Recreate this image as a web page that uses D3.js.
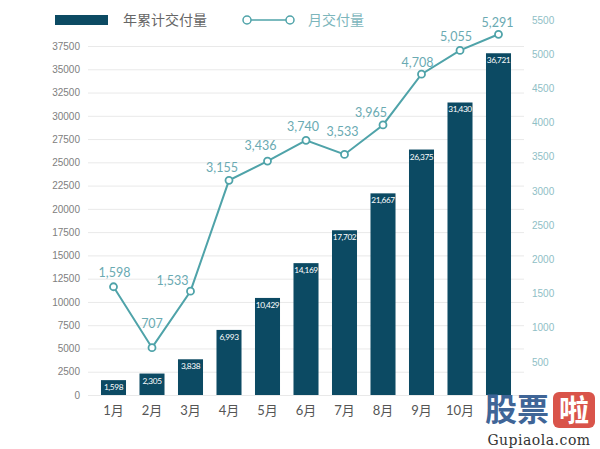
<!DOCTYPE html>
<html><head><meta charset="utf-8">
<script src="https://cdn.jsdelivr.net/npm/d3@7"></script>
<style>body{margin:0;background:#fff}svg{display:block;font-family:Lato,"Noto Sans CJK SC",sans-serif}</style>
</head><body><svg id="c" width="600" height="449"></svg>
<script>
const categories = ["1月","2月","3月","4月","5月","6月","7月","8月","9月","10月","11月"];
const cumulative = [1598,2305,3838,6993,10429,14169,17702,21667,26375,31430,36721];
const monthly = [1598,707,1533,3155,3436,3740,3533,3965,4708,5055,5291];
const leftTicks = [0,2500,5000,7500,10000,12500,15000,17500,20000,22500,25000,27500,30000,32500,35000,37500];
const rightTicks = [500,1000,1500,2000,2500,3000,3500,4000,4500,5000,5500];
const seriesNames = ["年累计交付量","月交付量"];

const svg = d3.select("#c");
const x = d3.scaleBand().domain(categories).range([94.25,517.75]).paddingInner(0.35).paddingOuter(0.175);
const yL = d3.scaleLinear().domain([0,37500]).range([395,46]);
const yR = d3.scaleLinear().domain([0,5500]).range([396,20]);
const barColor = "#0c4a63", lineColor = "#4fa3a9", labelTeal = "#6aaab2";

// gridlines + left axis
const gl = svg.append("g").attr("transform","translate(88,0)")
  .call(d3.axisLeft(yL).tickValues(leftTicks).tickSize(-436).tickPadding(8).tickFormat(d3.format("d")));
gl.select(".domain").remove();
gl.selectAll("line").attr("stroke","#e9e9e9");
gl.selectAll("text").attr("fill","#808080").attr("font-size",10).attr("x",-8);

// right axis
const gr = svg.append("g").attr("transform","translate(524,0)")
  .call(d3.axisRight(yR).tickValues(rightTicks).tickSize(0).tickPadding(8).tickFormat(d3.format("d")));
gr.select(".domain").remove();
gr.selectAll("text").attr("fill","#8fc0c6").attr("font-size",10);

// bars
const bw = x.bandwidth();
svg.append("g").selectAll("rect").data(cumulative).join("rect")
  .attr("x",(d,i)=>x(categories[i])).attr("width",bw)
  .attr("y",d=>yL(d)).attr("height",d=>yL(0)-yL(d)).attr("fill",barColor);
svg.append("g").selectAll("text").data(cumulative).join("text")
  .attr("x",(d,i)=>x(categories[i])+bw/2).attr("y",d=>yL(d)+10)
  .attr("text-anchor","middle").attr("fill","#fff").attr("font-size",8.3).attr("letter-spacing",-0.4)
  .text(d=>d3.format(",")(d));

// x labels (the last one is hidden behind the watermark in the source image)
svg.append("g").selectAll("text").data(categories.slice(0,10)).join("text")
  .attr("x",d=>x(d)+bw/2).attr("y",415).attr("text-anchor","middle")
  .attr("fill","#555").attr("font-size",13).text(d=>d);

// line
const cx = i => x(categories[i])+bw/2;
svg.append("path").datum(monthly).attr("fill","none").attr("stroke",lineColor).attr("stroke-width",2)
  .attr("d",d3.line().x((d,i)=>cx(i)).y(d=>yR(d)));
svg.append("g").selectAll("circle").data(monthly).join("circle")
  .attr("cx",(d,i)=>cx(i)).attr("cy",d=>yR(d)).attr("r",3.5)
  .attr("fill","#fff").attr("stroke",lineColor).attr("stroke-width",1.8);
const off = [[1,-14],[0,-24],[-18,-10],[-7,-12],[-7,-15],[-3,-13],[-2,-22],[-12,-12],[-4,-11],[-4,-13],[-1,-11]];
svg.append("g").selectAll("text").data(monthly).join("text")
  .attr("x",(d,i)=>cx(i)+off[i][0]).attr("y",(d,i)=>yR(d)+off[i][1]+4)
  .attr("text-anchor","middle").attr("fill",labelTeal).attr("font-size",12.5)
  .text(d=>d3.format(",")(d));

// legend
svg.append("rect").attr("x",55).attr("y",15).attr("width",53).attr("height",10).attr("fill",barColor);
svg.append("text").attr("x",123).attr("y",25).attr("fill","#666").attr("font-size",14).text(seriesNames[0]);
svg.append("line").attr("x1",247).attr("x2",290).attr("y1",20).attr("y2",20).attr("stroke",lineColor).attr("stroke-width",1.5);
[247,290].forEach(p=>svg.append("circle").attr("cx",p).attr("cy",20).attr("r",4).attr("fill","#fff").attr("stroke",lineColor).attr("stroke-width",1.5));
svg.append("text").attr("x",308).attr("y",25).attr("fill","#7db6bc").attr("font-size",14).text(seriesNames[1]);

// watermark
const wm = svg.append("g");
wm.append("rect").attr("x",482).attr("y",396).attr("width",118).attr("height",53).attr("fill","#fff").attr("opacity",0.85);
wm.append("text").attr("x",485).attr("y",421).attr("font-size",32).attr("font-weight","bold").attr("fill","#3f6597").attr("font-family","Noto Sans CJK SC").text("股票");
wm.append("rect").attr("x",553).attr("y",392).attr("width",42).attr("height",36).attr("rx",6).attr("fill","#d9544a");
wm.append("text").attr("x",574).attr("y",421).attr("text-anchor","middle").attr("font-size",30).attr("font-weight","bold").attr("fill","#fff").attr("font-family","Noto Sans CJK SC").text("啦");
wm.append("text").attr("x",539).attr("y",445).attr("text-anchor","middle").attr("font-size",14).attr("fill","#333").attr("font-family","DejaVu Serif").attr("letter-spacing",0.5).text("Gupiaola.com");
</script></body></html>
